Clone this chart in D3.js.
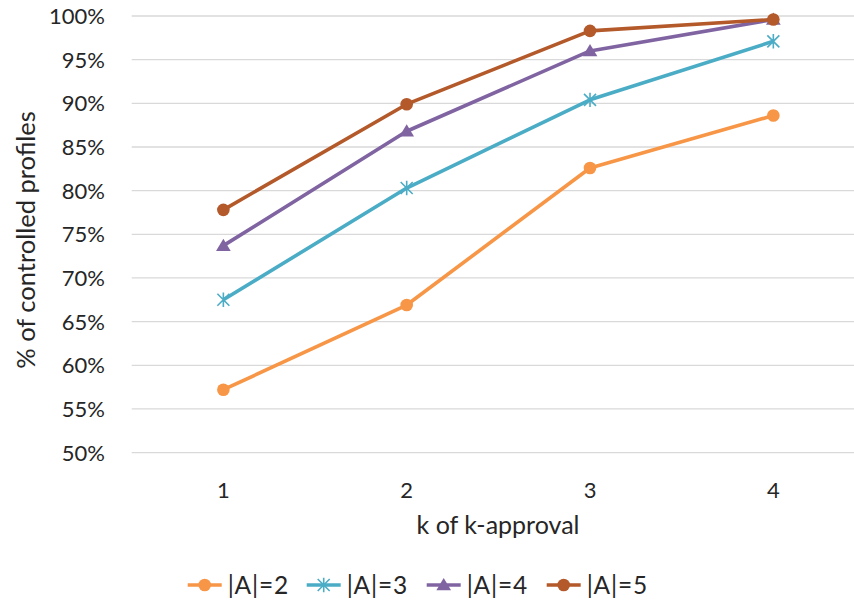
<!DOCTYPE html>
<html><head><meta charset="utf-8">
<script src="https://cdn.jsdelivr.net/npm/d3@7"></script>
<style>body{margin:0;background:#fff}text{font-family:Lato,"Open Sans",sans-serif;fill:#262626}</style>
</head><body><svg id="c" width="854" height="603"></svg>
<script>
const categories = ["1","2","3","4"];
const seriesNames = ["|A|=2","|A|=3","|A|=4","|A|=5"];
const seriesColors = ["#F79646","#4BACC6","#8064A2","#B3592A"];
const seriesMarkers = ["circle","star","triangle","circle"];
const valsA2 = [57.2, 66.9, 82.6, 88.6];
const valsA3 = [67.5, 80.3, 90.4, 97.1];
const valsA4 = [73.7, 86.8, 96.0, 99.6];
const valsA5 = [77.8, 89.9, 98.3, 99.6];
const yTicks = [50,55,60,65,70,75,80,85,90,95,100];
const series = [valsA2, valsA3, valsA4, valsA5];

const svg = d3.select("#c");
const x = d3.scaleBand().domain(categories).range([131.7, 865]);
const y = d3.scaleLinear().domain([50,100]).range([452.6, 16]);

// gridlines
svg.append("g").selectAll("line").data(yTicks).join("line")
  .attr("x1", 131.7).attr("x2", 865)
  .attr("y1", d=>y(d)).attr("y2", d=>y(d))
  .attr("stroke", "#d9d9d9").attr("stroke-width", 1.3);

// y tick labels
svg.append("g").selectAll("text").data(yTicks).join("text")
  .attr("x", 105).attr("y", d=>y(d)).attr("dy","0.36em")
  .attr("text-anchor","end").attr("font-size", 22).text(d=>d+"%");

// x tick labels
svg.append("g").selectAll("text").data(categories).join("text")
  .attr("x", d=>x(d)+x.bandwidth()/2).attr("y", 498)
  .attr("text-anchor","middle").attr("font-size", 22).text(d=>d);

svg.append("text").attr("x", 498).attr("y", 534).attr("text-anchor","middle")
  .attr("font-size", 25).text("k of k-approval");
svg.append("text").attr("transform","translate(35,240) rotate(-90)").attr("text-anchor","middle")
  .attr("font-size", 25.5).text("% of controlled profiles");

function drawMarker(g, type, cx, cy, color, scale){
  scale = scale || 1;
  if(type==="circle"){
    g.append("circle").attr("cx",cx).attr("cy",cy).attr("r",6.3*scale).attr("fill",color);
  } else if(type==="triangle"){
    const s=7*scale;
    g.append("path").attr("d",`M${cx},${cy-s}L${cx+s*1.05},${cy+s*0.75}L${cx-s*1.05},${cy+s*0.75}Z`).attr("fill",color);
  } else if(type==="star"){
    const s=6*scale;
    const p = d3.path();
    p.moveTo(cx-s,cy-s);p.lineTo(cx+s,cy+s);
    p.moveTo(cx-s,cy+s);p.lineTo(cx+s,cy-s);
    p.moveTo(cx,cy-s*1.2);p.lineTo(cx,cy+s*1.2);
    g.append("path").attr("d",p.toString()).attr("stroke",color).attr("stroke-width",1.6).attr("fill","none");
  }
}

const line = d3.line().x((d,i)=>x(categories[i])+x.bandwidth()/2).y(d=>y(d));
series.forEach((vals, si)=>{
  const g = svg.append("g");
  g.append("path").attr("d", line(vals)).attr("fill","none")
    .attr("stroke", seriesColors[si]).attr("stroke-width", 3.6).attr("stroke-linejoin","round");
  vals.forEach((v,i)=>drawMarker(g, seriesMarkers[si], x(categories[i])+x.bandwidth()/2, y(v), seriesColors[si]));
});

// legend
const legX = [187.7, 306.7, 426.7, 546.7];
const legY = 585;
seriesNames.forEach((n, i)=>{
  const g = svg.append("g");
  g.append("line").attr("x1", legX[i]).attr("x2", legX[i]+34).attr("y1", legY).attr("y2", legY)
    .attr("stroke", seriesColors[i]).attr("stroke-width", 3.6);
  drawMarker(g, seriesMarkers[i], legX[i]+17, legY, seriesColors[i]);
  g.append("text").attr("x", legX[i]+40).attr("y", legY).attr("dy","0.36em").attr("font-size",24.5)
    .attr("letter-spacing", 0.8).text(n);
});
</script></body></html>
